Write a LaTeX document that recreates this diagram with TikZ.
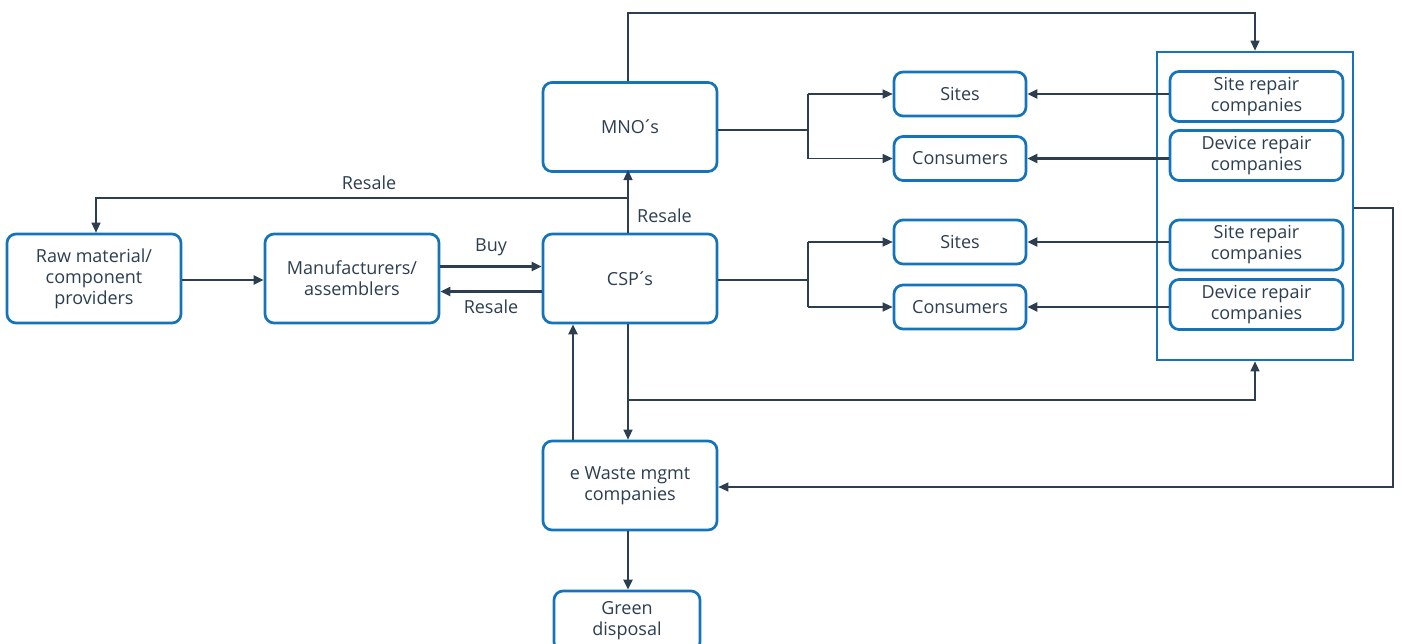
\documentclass[tikz,border=0pt]{standalone}
\usepackage{fontspec}
\setmainfont{Open Sans}
\usetikzlibrary{arrows.meta}
\definecolor{boxblue}{RGB}{21,115,186}
\definecolor{ink}{RGB}{44,62,80}
% tight spacing acute used as apostrophe
\newcommand{\tick}{\kern-2.5pt´\kern-2.5pt}
\begin{document}
\begin{tikzpicture}[x=1pt,y=-1pt,
  txt/.style={text=ink,font=\fontsize{18}{21}\selectfont},
  box/.style={draw=boxblue,line width=2.7pt,rounded corners=9pt,fill=white,
    txt,align=center,inner sep=0pt},
  bigbox/.style={box,minimum width=174pt,minimum height=89pt},
  smallbox/.style={box,minimum width=132pt,minimum height=44pt},
  repbox/.style={box,minimum width=173pt,minimum height=50pt},
  thick link/.style={draw=ink,line width=2.2pt,-{Triangle[length=10pt,width=9pt]}},
  thin link/.style={draw=ink,line width=1.3pt,-{Triangle[length=10pt,width=9pt]}},
  thin line/.style={draw=ink,line width=1.3pt},
  thick line/.style={draw=ink,line width=2.2pt},
  lbl/.style={txt,inner sep=0pt}]
\useasboundingbox (0,0) rectangle (1402,643);

% main chain
\node[bigbox] (raw) at (94,278.5) {Raw material/\\component\\providers};
\node[bigbox] (man) at (352,278.5) {Manufacturers/\\assemblers};
\node[bigbox] (csp) at (630,278.5) {CSP\tick s};
\node[bigbox] (mno) at (630,127) {MNO\tick s};
\node[bigbox] (ews) at (630,485.5) {e Waste mgmt\\companies};
\node[box,minimum width=146pt,minimum height=60pt] (grn) at (627,621) {Green\\disposal};

% customers
\node[smallbox] (s1) at (960,94) {Sites};
\node[smallbox] (c1) at (960,158.5) {Consumers};
\node[smallbox] (s2) at (960,242) {Sites};
\node[smallbox] (c2) at (960,307) {Consumers};

% repair companies
\node[draw=boxblue,line width=2.7pt,minimum width=196pt,minimum height=308pt,inner sep=0pt] (rep) at (1255,206) {};
\node[repbox] (r1) at (1256.5,96.5) {Site repair\\companies};
\node[repbox] (r2) at (1256.5,155.5) {Device repair\\companies};
\node[repbox] (r3) at (1256.5,245) {Site repair\\companies};
\node[repbox] (r4) at (1256.5,304.5) {Device repair\\companies};

% raw -> manufacturers <-> CSP
\draw[thick link] (raw.east |- 0,280) -- (man.west |- 0,280);
\draw[thick link] (man.east |- 0,266.5) -- (csp.west |- 0,266.5)
  node[lbl,midway,above=10pt] {Buy};
\draw[thick link] (csp.west |- 0,291.5) -- (man.east |- 0,291.5)
  node[lbl,midway,below=7pt] {Resale};

% CSP -> MNO and resale back to raw material providers
\coordinate (cspTop) at (628,233);
\coordinate (mnoBot) at (628,170);
\coordinate (split) at (628,198);
\draw[thin link] (cspTop) -- (mnoBot);
\node[lbl,anchor=west] (rsl1) at (637,216) {Resale};
\draw[thin link] (split) -- (96,198) -- (raw.north -| 96,0);
\node[lbl] (rsl2) at (369,183) {Resale};

% MNO over the top to repair companies
\draw[thin link] (mno.north -| 628,0) -- (628,13) -- (1255,13) -- (rep.north);

% MNO fork
\coordinate (mf) at (808,130);
\draw[thick line] (mno.east |- mf) -- (mf);
\draw[thin line] (808,94) -- (808,158.5);
\draw[thin link] (808,94) -- (s1.west);
\draw[thin link] (808,158.5) -- (c1.west);

% CSP fork
\coordinate (cf) at (808,280);
\draw[thick line] (csp.east |- cf) -- (cf);
\draw[thin line] (808,242) -- (808,307);
\draw[thin link] (808,242) -- (s2.west);
\draw[thin link] (808,307) -- (c2.west);

% repair companies -> sites/consumers
\draw[thick link] (r1.west |- s1.east) -- (s1.east);
\draw[thick link] (r2.west |- c1.east) -- (c1.east);
\draw[thick link] (r3.west |- s2.east) -- (s2.east);
\draw[thick link] (r4.west |- c2.east) -- (c2.east);

% CSP down to e-waste, branch to repair companies
\coordinate (cb) at (628,400);
\draw[thin link] (csp.south -| 628,0) -- (ews.north -| 628,0);
\draw[thin link] (cb) -- (1255,400) -- (rep.south);
\draw[thick link] (ews.north -| 573,0) -- (csp.south -| 573,0);

% repair companies -> e-waste
\draw[thin link] (rep.east |- 0,208) -- (1393,208) -- (1393,487) -- (ews.east |- 0,487);

% e-waste -> green disposal
\draw[thick link] (ews.south -| 628,0) -- (grn.north -| 628,0);
\end{tikzpicture}
\end{document}
